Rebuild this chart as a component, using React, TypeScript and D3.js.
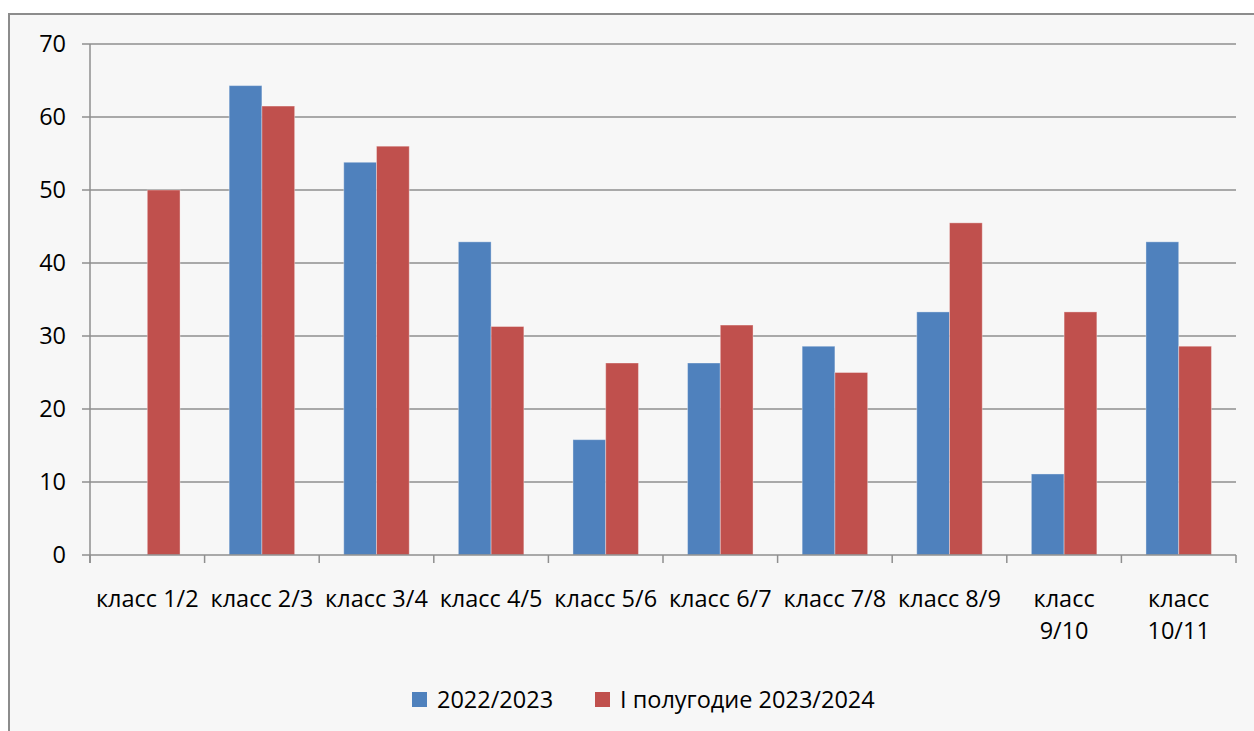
import { useEffect, useRef } from 'react';
import * as d3 from 'd3';

// данные с диаграммы
const categories = [
  'класс 1/2', 'класс 2/3', 'класс 3/4', 'класс 4/5', 'класс 5/6',
  'класс 6/7', 'класс 7/8', 'класс 8/9', 'класс 9/10', 'класс 10/11'
];
const seriesNames = ['2022/2023', 'I полугодие 2023/2024'];
const values2022 = [0, 64.3, 53.8, 42.9, 15.8, 26.3, 28.6, 33.3, 11.1, 42.9];
const values2023 = [50, 61.5, 56, 31.3, 26.3, 31.5, 25, 45.5, 33.3, 28.6];
const yTicks = [0, 10, 20, 30, 40, 50, 60, 70];
const colors = ['#4F81BD', '#C0504D'];

const W = 1254;
const H = 731;
const FONT = '"Open Sans", sans-serif';
const FS = 23.5;

export default function App() {
  const svgRef = useRef<SVGSVGElement | null>(null);

  useEffect(() => {
    if (!svgRef.current) return;
    const svg = d3.select(svgRef.current);
    svg.selectAll('*').remove();

    const left = 90, right = 1236, top = 44, bottom = 555;

    // рамка и фон
    svg.append('rect')
      .attr('x', 9).attr('y', 14)
      .attr('width', W + 20).attr('height', H + 20)
      .attr('fill', '#F7F7F7')
      .attr('stroke', '#8C8C8C')
      .attr('stroke-width', 2);

    const y = d3.scaleLinear().domain([0, 70]).range([bottom, top]);
    const x = d3.scaleBand<string>().domain(categories).range([left, right]);
    const xs = d3.scaleBand<string>().domain(seriesNames)
      .range([0, x.bandwidth()]).paddingInner(0).paddingOuter(0.75);

    // сетка
    svg.append('g')
      .selectAll('line')
      .data(yTicks.filter(t => t > 0))
      .join('line')
      .attr('x1', left - 8).attr('x2', right)
      .attr('y1', d => y(d)).attr('y2', d => y(d))
      .attr('stroke', '#8F8F8F')
      .attr('stroke-width', 1.5);

    // подписи оси Y
    svg.append('g')
      .selectAll('text')
      .data(yTicks)
      .join('text')
      .attr('x', 66)
      .attr('y', d => y(d))
      .attr('dy', '0.36em')
      .attr('text-anchor', 'end')
      .attr('font-family', FONT)
      .attr('font-size', FS)
      .attr('fill', '#000')
      .text(d => d);

    // столбцы
    const rows = categories.map((c, i) => ({ c, vals: [values2022[i], values2023[i]] }));
    const groups = svg.append('g')
      .selectAll('g')
      .data(rows)
      .join('g')
      .attr('transform', d => `translate(${x(d.c)},0)`);

    groups.selectAll('rect')
      .data(d => d.vals.map((v, k) => ({ v, k })))
      .join('rect')
      .filter(d => d.v > 0)
      .attr('x', d => xs(seriesNames[d.k]) as number)
      .attr('y', d => y(d.v))
      .attr('width', xs.bandwidth())
      .attr('height', d => y(0) - y(d.v))
      .attr('fill', d => colors[d.k])
      .attr('stroke', 'rgba(255,255,255,0.35)')
      .attr('stroke-width', 1);

    // оси
    svg.append('line')
      .attr('x1', left).attr('x2', left)
      .attr('y1', top).attr('y2', bottom + 8)
      .attr('stroke', '#8F8F8F').attr('stroke-width', 1.5);
    svg.append('line')
      .attr('x1', left - 8).attr('x2', right)
      .attr('y1', bottom).attr('y2', bottom)
      .attr('stroke', '#8F8F8F').attr('stroke-width', 1.5);
    const bounds = categories.map(c => (x(c) as number)).concat([right]);
    svg.append('g')
      .selectAll('line')
      .data(bounds)
      .join('line')
      .attr('x1', d => d).attr('x2', d => d)
      .attr('y1', bottom).attr('y2', bottom + 8)
      .attr('stroke', '#8F8F8F').attr('stroke-width', 1.5);

    // подписи категорий
    const labels = svg.append('g')
      .selectAll('text')
      .data(categories)
      .join('text')
      .attr('x', d => (x(d) as number) + x.bandwidth() / 2)
      .attr('y', 607)
      .attr('text-anchor', 'middle')
      .attr('font-family', FONT)
      .attr('font-size', FS)
      .attr('fill', '#000');
    labels.each(function (d) {
      const t = d3.select(this);
      const lines = d.length > 9 ? d.split(' ') : [d];
      lines.forEach((ln, i) => {
        t.append('tspan')
          .attr('x', (x(d) as number) + x.bandwidth() / 2)
          .attr('dy', i === 0 ? 0 : 32)
          .text(ln);
      });
    });

    // легенда
    const legendX = [412, 595];
    const leg = svg.append('g')
      .selectAll('g')
      .data(seriesNames)
      .join('g')
      .attr('transform', (_, i) => `translate(${legendX[i]},692)`);
    leg.append('rect')
      .attr('width', 15).attr('height', 15)
      .attr('fill', (_, i) => colors[i]);
    leg.append('text')
      .attr('x', 25).attr('y', 16)
      .attr('font-family', FONT)
      .attr('font-size', FS)
      .attr('fill', '#000')
      .text(d => d);
  }, []);

  return (
    <svg
      ref={svgRef}
      width={W}
      height={H}
      style={{ position: 'absolute', left: 0, top: 0, background: '#fff' }}
    />
  );
}
